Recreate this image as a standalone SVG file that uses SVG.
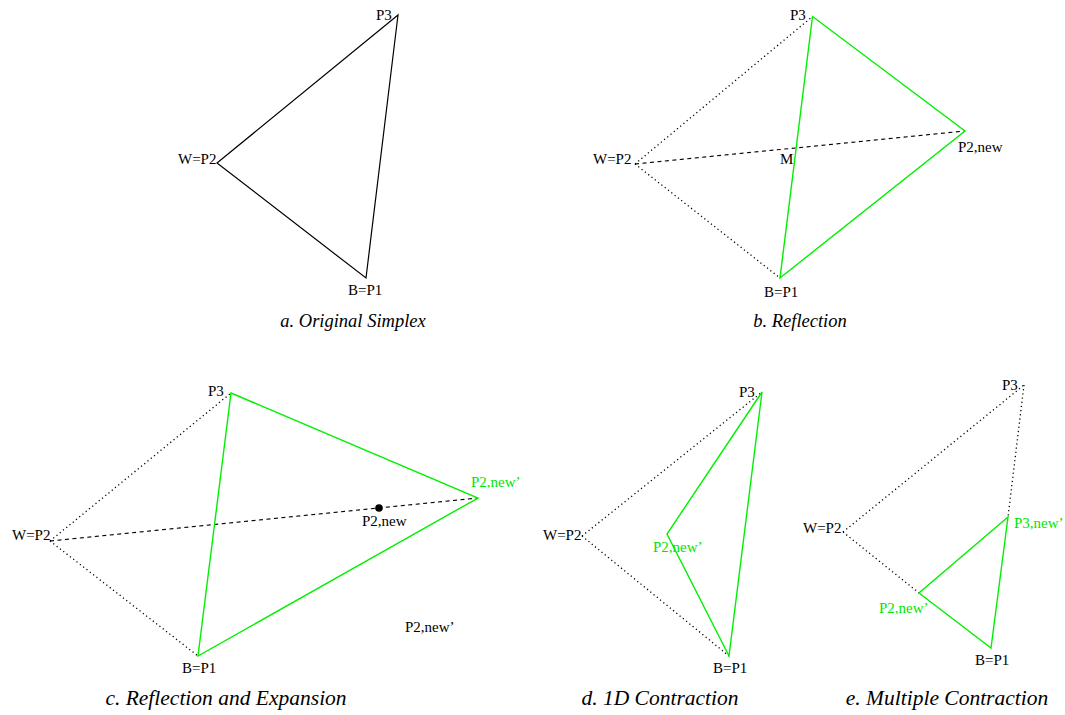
<svg xmlns="http://www.w3.org/2000/svg" width="1065" height="715" viewBox="0 0 1065 715">
<style>
text{font-family:"Liberation Serif","Times New Roman",serif;font-size:15px;fill:#000}
.g{fill:#00e600}
.cap{font-style:italic;font-size:18.5px;text-anchor:middle}
.capb{font-style:italic;font-size:21.5px;text-anchor:middle}
.solid{stroke:#000;stroke-width:1.2;fill:none}
.green{stroke:#00f000;stroke-width:1.4;fill:none}
.dot{stroke:#000;stroke-width:1.3;stroke-dasharray:1.2 3;fill:none}
.dash{stroke:#000;stroke-width:1.1;stroke-dasharray:4 3.5;fill:none}
</style>
<rect width="1065" height="715" fill="#fff"/>
<g id="connectors">
  <!-- panel a -->
  <polygon class="solid" points="398,15 217,163 366,278"/>
  <!-- panel b -->
  <line class="dot" x1="635" y1="164" x2="812.5" y2="16.5"/>
  <line class="dot" x1="635" y1="164" x2="780" y2="278"/>
  <line class="dash" x1="635" y1="164" x2="965" y2="131"/>
  <polygon class="green" points="812.5,16.5 965,131 780,278"/>
  <!-- panel c -->
  <line class="dot" x1="50" y1="541" x2="231" y2="393"/>
  <line class="dot" x1="50" y1="541" x2="198" y2="656"/>
  <line class="dash" x1="50" y1="541" x2="478" y2="498"/>
  <polygon class="green" points="231,393 478,498 198,656"/>
  <!-- panel d -->
  <line class="dot" x1="582" y1="536" x2="762" y2="392"/>
  <line class="dot" x1="582" y1="536" x2="729" y2="656"/>
  <polygon class="green" points="762,392 667,534 729,656"/>
  <!-- panel e -->
  <line class="dot" x1="843" y1="532" x2="1024" y2="385"/>
  <line class="dot" x1="1024" y1="385" x2="1008" y2="517"/>
  <line class="dot" x1="843" y1="532" x2="919" y2="593"/>
  <polygon class="green" points="1008,517 919,593 991,648"/>
</g>
<g id="panel-a">
  <text x="376" y="20">P3</text>
  <text x="178" y="164">W=P2</text>
  <text x="348" y="295">B=P1</text>
  <text class="cap" x="353" y="327">a. Original Simplex</text>
</g>
<g id="panel-b">
  <text x="790" y="20">P3</text>
  <text x="593" y="164">W=P2</text>
  <text x="780" y="164">M</text>
  <text x="958" y="152">P2,new</text>
  <text x="764" y="297">B=P1</text>
  <text class="cap" x="800" y="327">b. Reflection</text>
</g>
<g id="panel-c">
  <text x="208" y="396">P3</text>
  <text x="12" y="540">W=P2</text>
  <circle cx="379" cy="508" r="3.8" fill="#000"/>
  <text x="362" y="526">P2,new</text>
  <text class="g" x="471" y="487">P2,new’</text>
  <text x="405" y="632">P2,new’</text>
  <text x="182" y="673">B=P1</text>
  <text class="capb" x="226" y="705">c. Reflection and Expansion</text>
</g>
<g id="panel-d">
  <text x="739" y="397">P3</text>
  <text x="543" y="540">W=P2</text>
  <text class="g" x="653" y="552">P2,new’</text>
  <text x="713" y="673">B=P1</text>
  <text class="capb" x="660" y="705">d. 1D Contraction</text>
</g>
<g id="panel-e">
  <text x="1002" y="390">P3</text>
  <text x="803" y="533">W=P2</text>
  <text class="g" x="1014" y="528">P3,new’</text>
  <text class="g" x="879" y="613">P2,new’</text>
  <text x="975" y="665">B=P1</text>
  <text class="capb" x="947" y="705">e. Multiple Contraction</text>
</g>
</svg>
